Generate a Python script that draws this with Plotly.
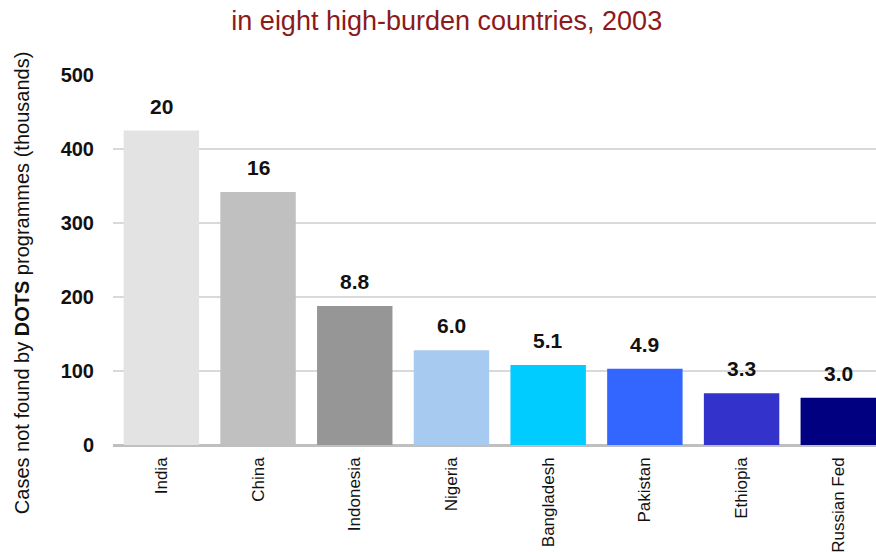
import plotly.graph_objects as go

countries = ["India", "China", "Indonesia", "Nigeria", "Bangladesh", "Pakistan", "Ethiopia", "Russian Fed"]
cases_thousands = [425, 342, 188, 128, 108, 103, 70, 64]
bar_labels = ["20", "16", "8.8", "6.0", "5.1", "4.9", "3.3", "3.0"]
bar_colors = ["#e3e3e3", "#c0c0c0", "#969696", "#a6caf0", "#00ccff", "#3366ff", "#3333cc", "#000080"]
y_ticks = [0, 100, 200, 300, 400, 500]

fig = go.Figure()
fig.add_trace(go.Bar(
    x=countries,
    y=cases_thousands,
    marker=dict(color=bar_colors, line=dict(width=0)),
    width=0.78,
    hoverinfo="x+y",
))

for c, v, t in zip(countries, cases_thousands, bar_labels):
    fig.add_annotation(
        x=c, y=v, text=f"<b>{t}</b>", showarrow=False,
        yanchor="bottom", yshift=11,
        font=dict(family="Arial, Liberation Sans", size=21, color="#111111"),
    )

fig.add_annotation(
    xref="paper", yref="paper", x=-0.119, y=0.438,
    text="Cases not found by <b>DOTS</b> programmes (thousands)",
    textangle=-90, showarrow=False, xanchor="center", yanchor="middle",
    font=dict(family="Arial, Liberation Sans", size=20, color="#111111"),
)

fig.update_layout(
    width=876, height=552,
    margin=dict(l=113, r=0, t=75, b=107),
    paper_bgcolor="white", plot_bgcolor="white",
    showlegend=False,
    bargap=0.22,
    title=dict(
        text="in eight high-burden countries, 2003",
        x=0.51, xanchor="center", y=0.962, yanchor="middle",
        font=dict(family="Arial, Liberation Sans", size=27, color="#8c1a1a"),
    ),
    xaxis=dict(
        type="category",
        range=[-0.5, 7.39],
        tickangle=-90,
        tickfont=dict(family="Arial, Liberation Sans", size=17, color="#111111"),
        showgrid=False, showline=False, ticks="", ticklabelstandoff=8,
    ),
    yaxis=dict(
        range=[0, 500], tickvals=y_ticks,
        ticktext=[f"<b>{v}</b>" for v in y_ticks],
        tickfont=dict(family="Arial, Liberation Sans", size=20, color="#111111"),
        showgrid=True, gridcolor="#d9d9d9", gridwidth=1.5,
        zeroline=True, zerolinecolor="#bfbfbf", zerolinewidth=2.5,
        showline=False, ticks="", ticklabelstandoff=18,
    ),
)

fig.write_html("out.html")
